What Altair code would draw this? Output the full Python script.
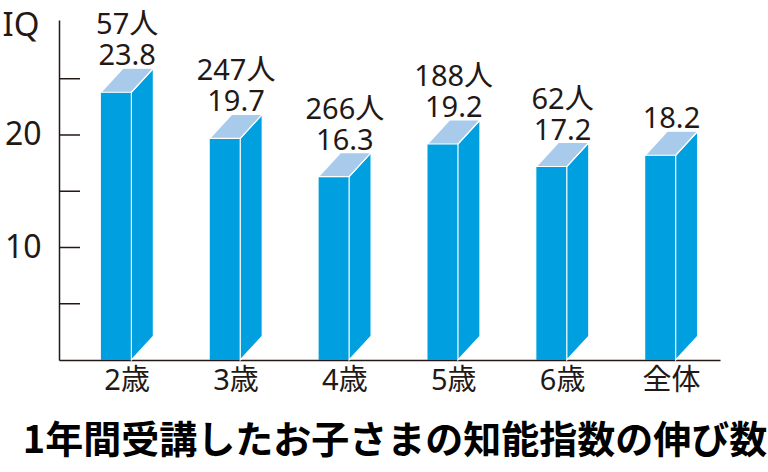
import altair as alt
import pandas as pd

# ---- data ----
categories = ["2歳", "3歳", "4歳", "5歳", "6歳", "全体"]
iq_gain = [23.8, 19.7, 16.3, 19.2, 17.2, 18.2]
counts = ["57人", "247人", "266人", "188人", "62人", ""]
value_labels = ["23.8", "19.7", "16.3", "19.2", "17.2", "18.2"]
tick_values = [5, 10, 15, 20, 25]
label_values = [10, 20]
title_text = "1年間受講したお子さまの知能指数の伸び数"

# ---- 3D bar geometry (in scale units) ----
FACE_W = 0.28      # front face width (x units)
DEPTH_X = 0.202    # depth offset along x
DEPTH_Y = 2.13     # depth offset along y (IQ units)

FRONT = "#00a0e0"
SIDE = "#00a0e0"
TOP = "#a8cbec"
INK = "#231815"
LATIN = "Noto Sans, Noto Sans CJK JP"

idx = list(range(len(categories)))

front = pd.DataFrame({
    "cat": categories,
    "x": idx,
    "x2": [i + FACE_W for i in idx],
    "v": iq_gain,
    "zero": [0] * len(idx),
})

side_rows = []
top_rows = []
for i, c, v in zip(idx, categories, iq_gain):
    xr = i + FACE_W
    side_rows.append({"cat": c, "x": xr, "y": v, "y2": 0})
    side_rows.append({"cat": c, "x": xr + DEPTH_X, "y": v + DEPTH_Y, "y2": DEPTH_Y})
    top_rows.append({"cat": c, "x": i, "y": v, "y2": v})
    top_rows.append({"cat": c, "x": i + DEPTH_X, "y": v, "y2": v + DEPTH_Y})
    top_rows.append({"cat": c, "x": i + FACE_W, "y": v, "y2": v + DEPTH_Y})
    top_rows.append({"cat": c, "x": i + FACE_W + DEPTH_X, "y": v + DEPTH_Y, "y2": v + DEPTH_Y})
side = pd.DataFrame(side_rows)
top = pd.DataFrame(top_rows)

labels = pd.DataFrame({
    "cat": categories,
    "xc": [i + (FACE_W + DEPTH_X) / 2 for i in idx],
    "ly": [v + DEPTH_Y for v in iq_gain],
    "lbl": [c + "\n" + v for c, v in zip(counts, value_labels)],
})
ticks = pd.DataFrame({"t": tick_values})

W, H = 661, 340
xs = alt.Scale(domain=[-0.385, 5.687], nice=False, zero=False)
ys = alt.Scale(domain=[0, 30.22], nice=False, zero=False)

front_layer = alt.Chart(front).mark_rect(color=FRONT).encode(
    x=alt.X("x:Q", scale=xs, axis=alt.Axis(labels=False, ticks=False, grid=False,
                                           domain=True, title=None,
                                           domainColor=INK, domainWidth=1.5)),
    x2="x2:Q",
    y=alt.Y("v:Q", scale=ys, axis=alt.Axis(
        values=label_values, ticks=False, grid=False, domain=True,
        domainColor=INK, domainWidth=1.5,
        labelFont=LATIN, labelFontSize=32, labelColor=INK, labelPadding=18,
        title="IQ", titleFont=LATIN, titleFontSize=33, titleFontWeight="normal",
        titleColor=INK, titleAngle=0, titleAlign="left", titleBaseline="alphabetic",
        titleX=-57, titleY=15)),
    y2="zero:Q",
)

side_layer = alt.Chart(side).mark_area(color=SIDE, stroke="white", strokeWidth=1.2,
                                       interpolate="linear").encode(
    x=alt.X("x:Q", scale=xs),
    y=alt.Y("y:Q", scale=ys),
    y2="y2:Q",
    detail="cat:N",
)

top_layer = alt.Chart(top).mark_area(color=TOP, stroke="white", strokeWidth=1.2,
                                     interpolate="linear").encode(
    x=alt.X("x:Q", scale=xs),
    y=alt.Y("y:Q", scale=ys),
    y2="y2:Q",
    detail="cat:N",
)

tick_layer = alt.Chart(ticks).mark_rule(color=INK, strokeWidth=1.5).encode(
    y=alt.Y("t:Q", scale=ys),
    x=alt.value(0),
    x2=alt.value(21),
)

lbl_layer = alt.Chart(labels).mark_text(fontSize=29, font=LATIN, color=INK,
                                        baseline="alphabetic", lineBreak="\n",
                                        lineHeight=31, dy=-34).encode(
    x=alt.X("xc:Q", scale=xs),
    y=alt.Y("ly:Q", scale=ys),
    text="lbl:N",
)

cat_layer = alt.Chart(labels).mark_text(fontSize=29, font=LATIN, color=INK,
                                        baseline="alphabetic").encode(
    x=alt.X("xc:Q", scale=xs),
    y=alt.value(H + 30),
    text="cat:N",
)

title_layer = alt.Chart(pd.DataFrame({"t": [title_text]})).mark_text(
    fontSize=38, font="Noto Sans CJK JP", fontWeight="bold", color="black",
    baseline="alphabetic", align="center").encode(
    x=alt.value(336),
    y=alt.value(433),
    text="t:N",
)

chart = alt.layer(
    front_layer, side_layer, top_layer, tick_layer,
    lbl_layer, cat_layer, title_layer,
).properties(
    width=W, height=H,
    autosize="none",
    background="white",
    padding={"left": 59, "top": 20, "right": 768 - 59 - W, "bottom": 472 - 20 - H},
).configure_view(stroke=None)

chart.save("out.html", embed_options={"renderer": "svg", "actions": False})
